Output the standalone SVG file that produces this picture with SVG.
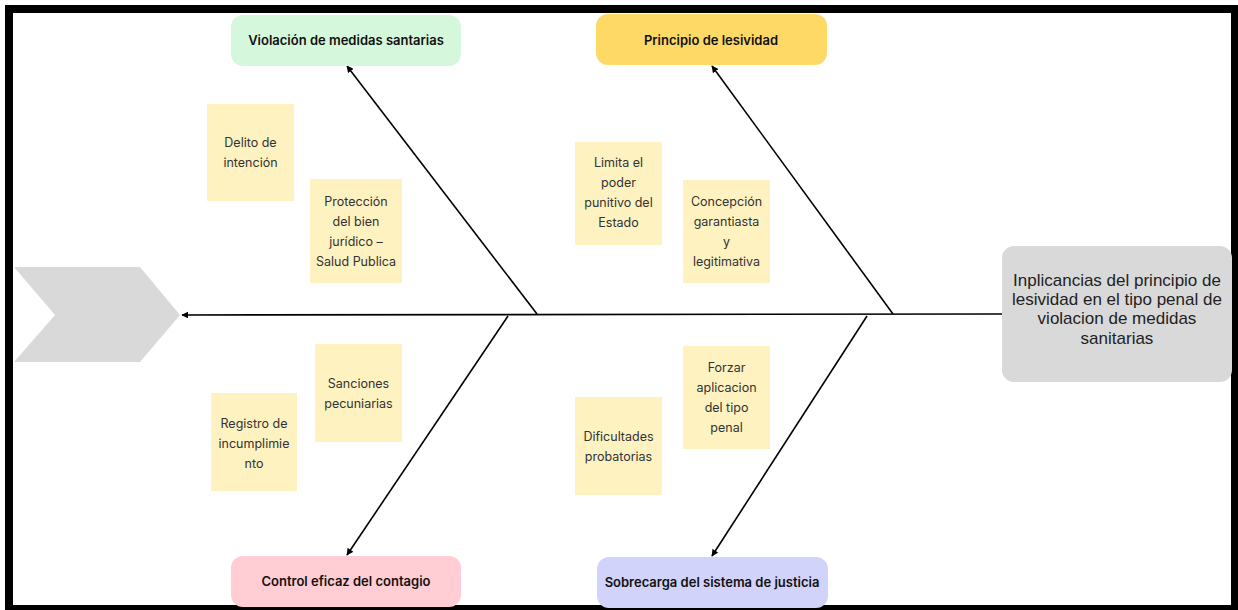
<svg xmlns="http://www.w3.org/2000/svg" width="1238" height="610" viewBox="0 0 1238 610">
<defs>
<marker id="ah" viewBox="0 0 10 10" refX="9" refY="5" markerWidth="7" markerHeight="7" markerUnits="userSpaceOnUse" orient="auto">
<path d="M0,0 L10,5 L0,10 z" fill="#000"/>
</marker>
<style>
.cat{font-family:Inter,"Noto Sans",sans-serif;font-size:13px;font-weight:600;fill:#111;text-anchor:middle}
.note{fill:#fdf2c0}
.nt{font-family:Inter,"Noto Sans",sans-serif;font-size:12.5px;fill:#333;text-anchor:middle}
.head{font-family:"Liberation Sans",Arial,sans-serif;font-size:17px;fill:#222;text-anchor:middle}
.ln{stroke:#000;stroke-width:1.6;fill:none}
</style>
</defs>
<rect x="0" y="0" width="1238" height="610" fill="#fff"/>
<rect x="9" y="9" width="1226" height="600" fill="#fff" stroke="#000" stroke-width="8"/>

<g id="tail">
<polygon points="14,267 140,267 180,315 140,362 14,362 55,315" fill="#d9d9d9"/>
</g>

<g id="connectors">
<line class="ln" x1="1002" y1="314" x2="182" y2="315" marker-end="url(#ah)"/>
<line class="ln" x1="537" y1="314" x2="347" y2="66" marker-end="url(#ah)"/>
<line class="ln" x1="893" y1="314" x2="712" y2="66" marker-end="url(#ah)"/>
<line class="ln" x1="508" y1="316" x2="347" y2="555" marker-end="url(#ah)"/>
<line class="ln" x1="867" y1="316" x2="712" y2="556" marker-end="url(#ah)"/>
</g>

<g id="head">
<rect x="1002" y="246" width="230" height="136" rx="12" fill="#d9d9d9"/>
<text class="head" x="1117" y="286">Inplicancias del principio de</text>
<text class="head" x="1117" y="305">lesividad en el tipo penal de</text>
<text class="head" x="1117" y="324">violacion de medidas</text>
<text class="head" x="1117" y="344">sanitarias</text>
</g>

<g id="cat-violacion">
<rect x="231" y="15" width="230" height="51" rx="12" fill="#d5f8dc"/>
<text class="cat" x="346" y="45">Violación de medidas santarias</text>
</g>
<g id="cat-principio">
<rect x="596" y="14" width="231" height="51" rx="12" fill="#ffd966"/>
<text class="cat" x="711" y="45">Principio de lesividad</text>
</g>
<g id="cat-control">
<rect x="231" y="556" width="230" height="51" rx="12" fill="#ffcdd3"/>
<text class="cat" x="346" y="586">Control eficaz del contagio</text>
</g>
<g id="cat-sobrecarga">
<rect x="597" y="557" width="231" height="51" rx="12" fill="#d1d3fb"/>
<text class="cat" x="712" y="587">Sobrecarga del sistema de justicia</text>
</g>

<g id="note-delito">
<rect class="note" x="207" y="104" width="87" height="97"/>
<text class="nt" x="250.5" y="147">Delito de</text>
<text class="nt" x="250.5" y="167">intención</text>
</g>
<g id="note-proteccion">
<rect class="note" x="310" y="179" width="92" height="104"/>
<text class="nt" x="356" y="206">Protección</text>
<text class="nt" x="356" y="226">del bien</text>
<text class="nt" x="356" y="246">jurídico –</text>
<text class="nt" x="356" y="266">Salud Publica</text>
</g>
<g id="note-limita">
<rect class="note" x="575" y="142" width="87" height="103"/>
<text class="nt" x="618.5" y="167">Limita el</text>
<text class="nt" x="618.5" y="187">poder</text>
<text class="nt" x="618.5" y="207">punitivo del</text>
<text class="nt" x="618.5" y="227">Estado</text>
</g>
<g id="note-concepcion">
<rect class="note" x="683" y="180" width="87" height="103"/>
<text class="nt" x="726.5" y="206">Concepción</text>
<text class="nt" x="726.5" y="226">garantiasta</text>
<text class="nt" x="726.5" y="246">y</text>
<text class="nt" x="726.5" y="266">legitimativa</text>
</g>
<g id="note-sanciones">
<rect class="note" x="315" y="344" width="87" height="98"/>
<text class="nt" x="358.5" y="388">Sanciones</text>
<text class="nt" x="358.5" y="408">pecuniarias</text>
</g>
<g id="note-registro">
<rect class="note" x="211" y="393" width="86" height="98"/>
<text class="nt" x="254" y="428">Registro de</text>
<text class="nt" x="254" y="448">incumplimie</text>
<text class="nt" x="254" y="468">nto</text>
</g>
<g id="note-forzar">
<rect class="note" x="683" y="346" width="87" height="103"/>
<text class="nt" x="726.5" y="372">Forzar</text>
<text class="nt" x="726.5" y="392">aplicacion</text>
<text class="nt" x="726.5" y="412">del tipo</text>
<text class="nt" x="726.5" y="432">penal</text>
</g>
<g id="note-dificultades">
<rect class="note" x="575" y="397" width="87" height="98"/>
<text class="nt" x="618.5" y="441">Dificultades</text>
<text class="nt" x="618.5" y="461">probatorias</text>
</g>
</svg>
